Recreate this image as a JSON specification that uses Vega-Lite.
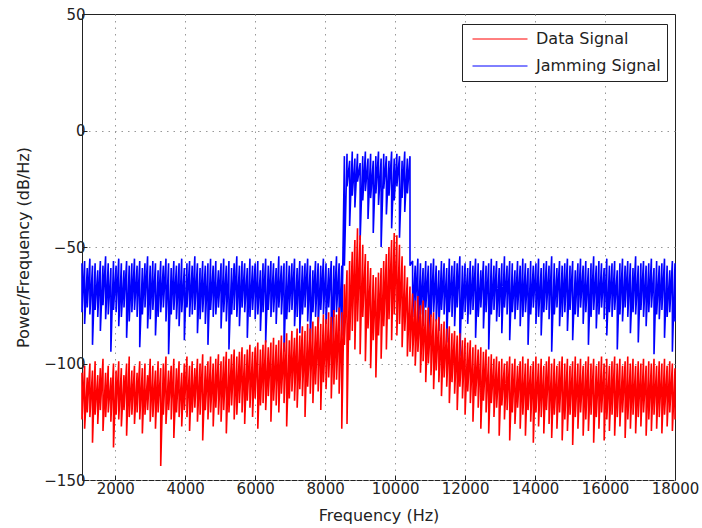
{
"$schema":"https://vega.github.io/schema/vega-lite/v6.json",
"width":593,"height":466,
"autosize":{"type":"none"},
"padding":{"left":82,"top":14,"right":27,"bottom":48},
"background":"white",
"config":{"font":"DejaVu Sans","view":{"stroke":"#222","strokeWidth":1},
"axis":{"labelFont":"DejaVu Sans","titleFont":"DejaVu Sans","labelColor":"#222","titleColor":"#222","labelFontSize":15,"titleFontSize":16,"titleFontWeight":"normal","domain":false,"tickColor":"#222","tickSize":-5,"labelFlush":false,"labelOverlap":false,"gridColor":"#999","gridDash":[1.5,5],"gridWidth":1},
"legend":{"labelFont":"DejaVu Sans","labelFontSize":16,"labelColor":"#222"}},
"data":{"values":[
{"f":1050,"s":"J","a":-57,"b":-78},{"f":1125,"s":"J","a":-56,"b":-83},{"f":1200,"s":"J","a":-59,"b":-76},{"f":1275,"s":"J","a":-55,"b":-79},{"f":1350,"s":"J","a":-58,"b":-92},
{"f":1425,"s":"J","a":-57,"b":-77},{"f":1500,"s":"J","a":-60,"b":-80},{"f":1575,"s":"J","a":-56,"b":-86},{"f":1650,"s":"J","a":-58,"b":-75},{"f":1725,"s":"J","a":-54,"b":-81},
{"f":1800,"s":"J","a":-57,"b":-79},{"f":1875,"s":"J","a":-59,"b":-95},{"f":1950,"s":"J","a":-56,"b":-77},{"f":2025,"s":"J","a":-58,"b":-78},{"f":2100,"s":"J","a":-55,"b":-84},
{"f":2175,"s":"J","a":-57,"b":-80},{"f":2250,"s":"J","a":-60,"b":-76},{"f":2325,"s":"J","a":-56,"b":-89},{"f":2400,"s":"J","a":-58,"b":-82},{"f":2475,"s":"J","a":-57,"b":-78},
{"f":2550,"s":"J","a":-55,"b":-77},{"f":2625,"s":"J","a":-58,"b":-80},{"f":2700,"s":"J","a":-56,"b":-93},{"f":2775,"s":"J","a":-59,"b":-79},{"f":2850,"s":"J","a":-57,"b":-76},
{"f":2925,"s":"J","a":-54,"b":-85},{"f":3000,"s":"J","a":-58,"b":-81},{"f":3075,"s":"J","a":-56,"b":-77},{"f":3150,"s":"J","a":-57,"b":-88},{"f":3225,"s":"J","a":-60,"b":-80},
{"f":3300,"s":"J","a":-56,"b":-78},{"f":3375,"s":"J","a":-58,"b":-76},{"f":3450,"s":"J","a":-55,"b":-82},{"f":3525,"s":"J","a":-57,"b":-96},{"f":3600,"s":"J","a":-59,"b":-79},
{"f":3675,"s":"J","a":-56,"b":-77},{"f":3750,"s":"J","a":-58,"b":-81},{"f":3825,"s":"J","a":-57,"b":-84},{"f":3900,"s":"J","a":-55,"b":-78},{"f":3975,"s":"J","a":-59,"b":-90},
{"f":4050,"s":"J","a":-57,"b":-76},{"f":4125,"s":"J","a":-56,"b":-80},{"f":4200,"s":"J","a":-58,"b":-79},{"f":4275,"s":"J","a":-54,"b":-77},{"f":4350,"s":"J","a":-57,"b":-87},
{"f":4425,"s":"J","a":-59,"b":-81},{"f":4500,"s":"J","a":-56,"b":-78},{"f":4575,"s":"J","a":-58,"b":-83},{"f":4650,"s":"J","a":-57,"b":-92},{"f":4725,"s":"J","a":-55,"b":-77},
{"f":4800,"s":"J","a":-58,"b":-80},{"f":4875,"s":"J","a":-56,"b":-79},{"f":4950,"s":"J","a":-60,"b":-76},{"f":5025,"s":"J","a":-57,"b":-85},{"f":5100,"s":"J","a":-55,"b":-78},
{"f":5175,"s":"J","a":-58,"b":-82},{"f":5250,"s":"J","a":-56,"b":-94},{"f":5325,"s":"J","a":-59,"b":-79},{"f":5400,"s":"J","a":-57,"b":-77},{"f":5475,"s":"J","a":-54,"b":-80},
{"f":5550,"s":"J","a":-58,"b":-84},{"f":5625,"s":"J","a":-56,"b":-76},{"f":5700,"s":"J","a":-57,"b":-78},{"f":5775,"s":"J","a":-59,"b":-89},{"f":5850,"s":"J","a":-55,"b":-80},
{"f":5925,"s":"J","a":-58,"b":-77},{"f":6000,"s":"J","a":-57,"b":-81},{"f":6075,"s":"J","a":-56,"b":-79},{"f":6150,"s":"J","a":-60,"b":-86},{"f":6225,"s":"J","a":-57,"b":-78},
{"f":6300,"s":"J","a":-55,"b":-91},{"f":6375,"s":"J","a":-58,"b":-77},{"f":6450,"s":"J","a":-56,"b":-80},{"f":6525,"s":"J","a":-57,"b":-78},{"f":6600,"s":"J","a":-59,"b":-83},
{"f":6675,"s":"J","a":-54,"b":-76},{"f":6750,"s":"J","a":-58,"b":-79},{"f":6825,"s":"J","a":-57,"b":-95},{"f":6900,"s":"J","a":-56,"b":-81},{"f":6975,"s":"J","a":-58,"b":-78},
{"f":7050,"s":"J","a":-57,"b":-77},{"f":7125,"s":"J","a":-55,"b":-84},{"f":7200,"s":"J","a":-59,"b":-80},{"f":7275,"s":"J","a":-56,"b":-87},{"f":7350,"s":"J","a":-58,"b":-79},
{"f":7425,"s":"J","a":-57,"b":-76},{"f":7500,"s":"J","a":-55,"b":-82},{"f":7575,"s":"J","a":-58,"b":-90},{"f":7650,"s":"J","a":-60,"b":-78},{"f":7725,"s":"J","a":-56,"b":-80},
{"f":7800,"s":"J","a":-57,"b":-85},{"f":7875,"s":"J","a":-58,"b":-77},{"f":7950,"s":"J","a":-55,"b":-79},{"f":8025,"s":"J","a":-57,"b":-83},{"f":8100,"s":"J","a":-59,"b":-76},
{"f":8175,"s":"J","a":-56,"b":-93},{"f":8250,"s":"J","a":-58,"b":-80},{"f":8325,"s":"J","a":-54,"b":-78},{"f":8400,"s":"J","a":-57,"b":-86},{"f":8475,"s":"J","a":-58,"b":-88},
{"f":8550,"s":"J","a":-11,"b":-58},{"f":8625,"s":"J","a":-10,"b":-24},{"f":8700,"s":"J","a":-13,"b":-41},{"f":8775,"s":"J","a":-9,"b":-28},{"f":8850,"s":"J","a":-12,"b":-33},
{"f":8925,"s":"J","a":-10,"b":-22},{"f":9000,"s":"J","a":-14,"b":-47},{"f":9075,"s":"J","a":-11,"b":-30},{"f":9150,"s":"J","a":-9,"b":-26},{"f":9225,"s":"J","a":-12,"b":-38},
{"f":9300,"s":"J","a":-10,"b":-29},{"f":9375,"s":"J","a":-13,"b":-44},{"f":9450,"s":"J","a":-11,"b":-27},{"f":9525,"s":"J","a":-9,"b":-32},{"f":9600,"s":"J","a":-12,"b":-50},
{"f":9675,"s":"J","a":-10,"b":-25},{"f":9750,"s":"J","a":-11,"b":-36},{"f":9825,"s":"J","a":-13,"b":-28},{"f":9900,"s":"J","a":-9,"b":-42},{"f":9975,"s":"J","a":-12,"b":-30},
{"f":10050,"s":"J","a":-10,"b":-24},{"f":10125,"s":"J","a":-11,"b":-46},{"f":10200,"s":"J","a":-13,"b":-29},{"f":10275,"s":"J","a":-9,"b":-35},{"f":10350,"s":"J","a":-12,"b":-27},
{"f":10425,"s":"J","a":-11,"b":-58},
{"f":10500,"s":"J","a":-56,"b":-80},{"f":10575,"s":"J","a":-58,"b":-77},{"f":10650,"s":"J","a":-55,"b":-88},{"f":10725,"s":"J","a":-57,"b":-79},{"f":10800,"s":"J","a":-59,"b":-84},
{"f":10875,"s":"J","a":-56,"b":-76},{"f":10950,"s":"J","a":-58,"b":-93},{"f":11025,"s":"J","a":-57,"b":-80},{"f":11100,"s":"J","a":-55,"b":-78},{"f":11175,"s":"J","a":-58,"b":-82},
{"f":11250,"s":"J","a":-60,"b":-86},{"f":11325,"s":"J","a":-56,"b":-77},{"f":11400,"s":"J","a":-57,"b":-79},{"f":11475,"s":"J","a":-59,"b":-91},{"f":11550,"s":"J","a":-55,"b":-78},
{"f":11625,"s":"J","a":-58,"b":-80},{"f":11700,"s":"J","a":-56,"b":-84},{"f":11775,"s":"J","a":-57,"b":-76},{"f":11850,"s":"J","a":-54,"b":-97},{"f":11925,"s":"J","a":-58,"b":-81},
{"f":12000,"s":"J","a":-57,"b":-78},{"f":12075,"s":"J","a":-59,"b":-83},{"f":12150,"s":"J","a":-56,"b":-79},{"f":12225,"s":"J","a":-58,"b":-77},{"f":12300,"s":"J","a":-55,"b":-89},
{"f":12375,"s":"J","a":-57,"b":-80},{"f":12450,"s":"J","a":-60,"b":-76},{"f":12525,"s":"J","a":-56,"b":-85},{"f":12600,"s":"J","a":-58,"b":-78},{"f":12675,"s":"J","a":-57,"b":-94},
{"f":12750,"s":"J","a":-55,"b":-79},{"f":12825,"s":"J","a":-58,"b":-77},{"f":12900,"s":"J","a":-56,"b":-82},{"f":12975,"s":"J","a":-59,"b":-80},{"f":13050,"s":"J","a":-57,"b":-87},
{"f":13125,"s":"J","a":-54,"b":-76},{"f":13200,"s":"J","a":-58,"b":-79},{"f":13275,"s":"J","a":-56,"b":-90},{"f":13350,"s":"J","a":-57,"b":-78},{"f":13425,"s":"J","a":-60,"b":-81},
{"f":13500,"s":"J","a":-56,"b":-77},{"f":13575,"s":"J","a":-58,"b":-84},{"f":13650,"s":"J","a":-55,"b":-80},{"f":13725,"s":"J","a":-57,"b":-78},{"f":13800,"s":"J","a":-59,"b":-92},
{"f":13875,"s":"J","a":-56,"b":-79},{"f":13950,"s":"J","a":-58,"b":-76},{"f":14025,"s":"J","a":-57,"b":-83},{"f":14100,"s":"J","a":-55,"b":-80},{"f":14175,"s":"J","a":-59,"b":-88},
{"f":14250,"s":"J","a":-57,"b":-78},{"f":14325,"s":"J","a":-56,"b":-77},{"f":14400,"s":"J","a":-58,"b":-81},{"f":14475,"s":"J","a":-54,"b":-95},{"f":14550,"s":"J","a":-57,"b":-79},
{"f":14625,"s":"J","a":-59,"b":-76},{"f":14700,"s":"J","a":-56,"b":-84},{"f":14775,"s":"J","a":-58,"b":-80},{"f":14850,"s":"J","a":-57,"b":-78},{"f":14925,"s":"J","a":-55,"b":-86},
{"f":15000,"s":"J","a":-58,"b":-77},{"f":15075,"s":"J","a":-56,"b":-90},{"f":15150,"s":"J","a":-60,"b":-79},{"f":15225,"s":"J","a":-57,"b":-80},{"f":15300,"s":"J","a":-55,"b":-76},
{"f":15375,"s":"J","a":-58,"b":-83},{"f":15450,"s":"J","a":-56,"b":-78},{"f":15525,"s":"J","a":-59,"b":-92},{"f":15600,"s":"J","a":-57,"b":-80},{"f":15675,"s":"J","a":-54,"b":-77},
{"f":15750,"s":"J","a":-58,"b":-85},{"f":15825,"s":"J","a":-56,"b":-79},{"f":15900,"s":"J","a":-57,"b":-76},{"f":15975,"s":"J","a":-59,"b":-81},{"f":16050,"s":"J","a":-55,"b":-88},
{"f":16125,"s":"J","a":-58,"b":-78},{"f":16200,"s":"J","a":-57,"b":-80},{"f":16275,"s":"J","a":-56,"b":-77},{"f":16350,"s":"J","a":-60,"b":-94},{"f":16425,"s":"J","a":-57,"b":-79},
{"f":16500,"s":"J","a":-55,"b":-82},{"f":16575,"s":"J","a":-58,"b":-76},{"f":16650,"s":"J","a":-56,"b":-80},{"f":16725,"s":"J","a":-57,"b":-87},{"f":16800,"s":"J","a":-59,"b":-78},
{"f":16875,"s":"J","a":-54,"b":-79},{"f":16950,"s":"J","a":-58,"b":-91},{"f":17025,"s":"J","a":-57,"b":-77},{"f":17100,"s":"J","a":-56,"b":-80},{"f":17175,"s":"J","a":-58,"b":-84},
{"f":17250,"s":"J","a":-57,"b":-78},{"f":17325,"s":"J","a":-55,"b":-76},{"f":17400,"s":"J","a":-59,"b":-96},{"f":17475,"s":"J","a":-56,"b":-79},{"f":17550,"s":"J","a":-58,"b":-81},
{"f":17625,"s":"J","a":-57,"b":-77},{"f":17700,"s":"J","a":-55,"b":-89},{"f":17775,"s":"J","a":-58,"b":-80},{"f":17850,"s":"J","a":-60,"b":-78},{"f":17925,"s":"J","a":-56,"b":-95},
{"f":18000,"s":"J","a":-57,"b":-82},
{"f":1050,"s":"D","a":-104,"b":-124},{"f":1125,"s":"D","a":-101,"b":-128},{"f":1200,"s":"D","a":-106,"b":-121},{"f":1275,"s":"D","a":-100,"b":-123},{"f":1350,"s":"D","a":-103,"b":-134},
{"f":1425,"s":"D","a":-99,"b":-122},{"f":1500,"s":"D","a":-105,"b":-126},{"f":1575,"s":"D","a":-102,"b":-120},{"f":1650,"s":"D","a":-98,"b":-129},{"f":1725,"s":"D","a":-104,"b":-123},
{"f":1800,"s":"D","a":-101,"b":-121},{"f":1875,"s":"D","a":-106,"b":-125},{"f":1950,"s":"D","a":-100,"b":-136},{"f":2025,"s":"D","a":-103,"b":-122},{"f":2100,"s":"D","a":-99,"b":-124},
{"f":2175,"s":"D","a":-102,"b":-127},{"f":2250,"s":"D","a":-105,"b":-120},{"f":2325,"s":"D","a":-100,"b":-131},{"f":2400,"s":"D","a":-97,"b":-123},{"f":2475,"s":"D","a":-103,"b":-122},
{"f":2550,"s":"D","a":-101,"b":-126},{"f":2625,"s":"D","a":-104,"b":-121},{"f":2700,"s":"D","a":-99,"b":-124},{"f":2775,"s":"D","a":-102,"b":-130},{"f":2850,"s":"D","a":-100,"b":-122},
{"f":2925,"s":"D","a":-105,"b":-120},{"f":3000,"s":"D","a":-98,"b":-125},{"f":3075,"s":"D","a":-101,"b":-123},{"f":3150,"s":"D","a":-103,"b":-128},{"f":3225,"s":"D","a":-99,"b":-121},
{"f":3300,"s":"D","a":-102,"b":-144},{"f":3375,"s":"D","a":-100,"b":-122},{"f":3450,"s":"D","a":-97,"b":-126},{"f":3525,"s":"D","a":-103,"b":-120},{"f":3600,"s":"D","a":-101,"b":-124},
{"f":3675,"s":"D","a":-98,"b":-132},{"f":3750,"s":"D","a":-102,"b":-121},{"f":3825,"s":"D","a":-99,"b":-123},{"f":3900,"s":"D","a":-104,"b":-127},{"f":3975,"s":"D","a":-100,"b":-120},
{"f":4050,"s":"D","a":-97,"b":-123},{"f":4125,"s":"D","a":-101,"b":-129},{"f":4200,"s":"D","a":-99,"b":-121},{"f":4275,"s":"D","a":-102,"b":-119},{"f":4350,"s":"D","a":-98,"b":-125},
{"f":4425,"s":"D","a":-100,"b":-122},{"f":4500,"s":"D","a":-96,"b":-133},{"f":4575,"s":"D","a":-101,"b":-120},{"f":4650,"s":"D","a":-99,"b":-124},{"f":4725,"s":"D","a":-97,"b":-121},
{"f":4800,"s":"D","a":-100,"b":-127},{"f":4875,"s":"D","a":-98,"b":-119},{"f":4950,"s":"D","a":-96,"b":-122},{"f":5025,"s":"D","a":-99,"b":-125},{"f":5100,"s":"D","a":-97,"b":-120},
{"f":5175,"s":"D","a":-95,"b":-130},{"f":5250,"s":"D","a":-98,"b":-121},{"f":5325,"s":"D","a":-96,"b":-118},{"f":5400,"s":"D","a":-94,"b":-124},{"f":5475,"s":"D","a":-97,"b":-122},
{"f":5550,"s":"D","a":-95,"b":-117},{"f":5625,"s":"D","a":-93,"b":-121},{"f":5700,"s":"D","a":-96,"b":-126},{"f":5775,"s":"D","a":-94,"b":-116},{"f":5850,"s":"D","a":-92,"b":-119},
{"f":5925,"s":"D","a":-95,"b":-123},{"f":6000,"s":"D","a":-93,"b":-115},{"f":6075,"s":"D","a":-91,"b":-128},{"f":6150,"s":"D","a":-94,"b":-118},{"f":6225,"s":"D","a":-92,"b":-117},
{"f":6300,"s":"D","a":-90,"b":-120},{"f":6375,"s":"D","a":-93,"b":-114},{"f":6450,"s":"D","a":-91,"b":-125},{"f":6525,"s":"D","a":-89,"b":-116},{"f":6600,"s":"D","a":-92,"b":-118},
{"f":6675,"s":"D","a":-90,"b":-121},{"f":6750,"s":"D","a":-88,"b":-113},{"f":6825,"s":"D","a":-91,"b":-117},{"f":6900,"s":"D","a":-87,"b":-127},{"f":6975,"s":"D","a":-90,"b":-115},
{"f":7050,"s":"D","a":-86,"b":-112},{"f":7125,"s":"D","a":-89,"b":-116},{"f":7200,"s":"D","a":-85,"b":-119},{"f":7275,"s":"D","a":-88,"b":-111},{"f":7350,"s":"D","a":-84,"b":-114},
{"f":7425,"s":"D","a":-86,"b":-123},{"f":7500,"s":"D","a":-83,"b":-110},{"f":7575,"s":"D","a":-85,"b":-113},{"f":7650,"s":"D","a":-82,"b":-117},{"f":7725,"s":"D","a":-84,"b":-109},
{"f":7800,"s":"D","a":-80,"b":-112},{"f":7875,"s":"D","a":-83,"b":-120},{"f":7950,"s":"D","a":-79,"b":-108},{"f":8025,"s":"D","a":-81,"b":-111},{"f":8100,"s":"D","a":-78,"b":-106},
{"f":8175,"s":"D","a":-80,"b":-115},{"f":8250,"s":"D","a":-77,"b":-109},{"f":8325,"s":"D","a":-79,"b":-107},{"f":8400,"s":"D","a":-76,"b":-113},{"f":8475,"s":"D","a":-78,"b":-128},
{"f":8550,"s":"D","a":-66,"b":-92},{"f":8625,"s":"D","a":-60,"b":-126},{"f":8700,"s":"D","a":-56,"b":-90},{"f":8775,"s":"D","a":-52,"b":-86},{"f":8850,"s":"D","a":-47,"b":-94},
{"f":8925,"s":"D","a":-42,"b":-82},{"f":9000,"s":"D","a":-45,"b":-96},{"f":9075,"s":"D","a":-49,"b":-80},{"f":9150,"s":"D","a":-53,"b":-99},{"f":9225,"s":"D","a":-56,"b":-85},
{"f":9300,"s":"D","a":-59,"b":-102},{"f":9375,"s":"D","a":-62,"b":-90},{"f":9450,"s":"D","a":-63,"b":-106},{"f":9525,"s":"D","a":-61,"b":-88},{"f":9600,"s":"D","a":-59,"b":-98},
{"f":9675,"s":"D","a":-56,"b":-84},{"f":9750,"s":"D","a":-53,"b":-94},{"f":9825,"s":"D","a":-50,"b":-81},{"f":9900,"s":"D","a":-47,"b":-90},{"f":9975,"s":"D","a":-44,"b":-79},
{"f":10050,"s":"D","a":-45,"b":-88},{"f":10125,"s":"D","a":-49,"b":-83},{"f":10200,"s":"D","a":-54,"b":-93},{"f":10275,"s":"D","a":-58,"b":-86},{"f":10350,"s":"D","a":-63,"b":-97},
{"f":10425,"s":"D","a":-67,"b":-95},
{"f":10500,"s":"D","a":-70,"b":-97},{"f":10575,"s":"D","a":-73,"b":-101},{"f":10650,"s":"D","a":-71,"b":-95},{"f":10725,"s":"D","a":-75,"b":-104},{"f":10800,"s":"D","a":-73,"b":-99},
{"f":10875,"s":"D","a":-77,"b":-108},{"f":10950,"s":"D","a":-76,"b":-100},{"f":11025,"s":"D","a":-79,"b":-105},{"f":11100,"s":"D","a":-78,"b":-111},{"f":11175,"s":"D","a":-81,"b":-103},
{"f":11250,"s":"D","a":-80,"b":-108},{"f":11325,"s":"D","a":-83,"b":-114},{"f":11400,"s":"D","a":-82,"b":-106},{"f":11475,"s":"D","a":-85,"b":-110},{"f":11550,"s":"D","a":-84,"b":-117},
{"f":11625,"s":"D","a":-87,"b":-108},{"f":11700,"s":"D","a":-86,"b":-113},{"f":11775,"s":"D","a":-88,"b":-120},{"f":11850,"s":"D","a":-87,"b":-110},{"f":11925,"s":"D","a":-90,"b":-115},
{"f":12000,"s":"D","a":-89,"b":-122},{"f":12075,"s":"D","a":-91,"b":-112},{"f":12150,"s":"D","a":-90,"b":-117},{"f":12225,"s":"D","a":-93,"b":-125},{"f":12300,"s":"D","a":-92,"b":-114},
{"f":12375,"s":"D","a":-94,"b":-119},{"f":12450,"s":"D","a":-93,"b":-128},{"f":12525,"s":"D","a":-95,"b":-116},{"f":12600,"s":"D","a":-94,"b":-121},{"f":12675,"s":"D","a":-97,"b":-130},
{"f":12750,"s":"D","a":-96,"b":-117},{"f":12825,"s":"D","a":-98,"b":-123},{"f":12900,"s":"D","a":-97,"b":-119},{"f":12975,"s":"D","a":-99,"b":-131},{"f":13050,"s":"D","a":-98,"b":-118},
{"f":13125,"s":"D","a":-100,"b":-124},{"f":13200,"s":"D","a":-99,"b":-120},{"f":13275,"s":"D","a":-97,"b":-133},{"f":13350,"s":"D","a":-100,"b":-121},{"f":13425,"s":"D","a":-98,"b":-126},
{"f":13500,"s":"D","a":-101,"b":-119},{"f":13575,"s":"D","a":-99,"b":-128},{"f":13650,"s":"D","a":-97,"b":-122},{"f":13725,"s":"D","a":-100,"b":-131},{"f":13800,"s":"D","a":-98,"b":-120},
{"f":13875,"s":"D","a":-101,"b":-125},{"f":13950,"s":"D","a":-99,"b":-134},{"f":14025,"s":"D","a":-97,"b":-121},{"f":14100,"s":"D","a":-100,"b":-127},{"f":14175,"s":"D","a":-98,"b":-123},
{"f":14250,"s":"D","a":-101,"b":-130},{"f":14325,"s":"D","a":-99,"b":-120},{"f":14400,"s":"D","a":-97,"b":-126},{"f":14475,"s":"D","a":-100,"b":-132},{"f":14550,"s":"D","a":-98,"b":-122},
{"f":14625,"s":"D","a":-101,"b":-128},{"f":14700,"s":"D","a":-99,"b":-121},{"f":14775,"s":"D","a":-97,"b":-133},{"f":14850,"s":"D","a":-100,"b":-124},{"f":14925,"s":"D","a":-98,"b":-129},
{"f":15000,"s":"D","a":-101,"b":-122},{"f":15075,"s":"D","a":-99,"b":-135},{"f":15150,"s":"D","a":-97,"b":-123},{"f":15225,"s":"D","a":-100,"b":-128},{"f":15300,"s":"D","a":-98,"b":-121},
{"f":15375,"s":"D","a":-101,"b":-131},{"f":15450,"s":"D","a":-99,"b":-124},{"f":15525,"s":"D","a":-97,"b":-129},{"f":15600,"s":"D","a":-100,"b":-122},{"f":15675,"s":"D","a":-98,"b":-134},
{"f":15750,"s":"D","a":-101,"b":-123},{"f":15825,"s":"D","a":-99,"b":-128},{"f":15900,"s":"D","a":-97,"b":-121},{"f":15975,"s":"D","a":-100,"b":-133},{"f":16050,"s":"D","a":-98,"b":-124},
{"f":16125,"s":"D","a":-101,"b":-129},{"f":16200,"s":"D","a":-99,"b":-122},{"f":16275,"s":"D","a":-97,"b":-131},{"f":16350,"s":"D","a":-100,"b":-123},{"f":16425,"s":"D","a":-98,"b":-127},
{"f":16500,"s":"D","a":-101,"b":-121},{"f":16575,"s":"D","a":-99,"b":-132},{"f":16650,"s":"D","a":-97,"b":-124},{"f":16725,"s":"D","a":-100,"b":-128},{"f":16800,"s":"D","a":-98,"b":-122},
{"f":16875,"s":"D","a":-101,"b":-130},{"f":16950,"s":"D","a":-99,"b":-123},{"f":17025,"s":"D","a":-100,"b":-127},{"f":17100,"s":"D","a":-98,"b":-121},{"f":17175,"s":"D","a":-101,"b":-131},
{"f":17250,"s":"D","a":-99,"b":-124},{"f":17325,"s":"D","a":-100,"b":-129},{"f":17400,"s":"D","a":-98,"b":-122},{"f":17475,"s":"D","a":-101,"b":-128},{"f":17550,"s":"D","a":-99,"b":-123},
{"f":17625,"s":"D","a":-100,"b":-130},{"f":17700,"s":"D","a":-98,"b":-122},{"f":17775,"s":"D","a":-101,"b":-127},{"f":17850,"s":"D","a":-99,"b":-121},{"f":17925,"s":"D","a":-100,"b":-129},
{"f":18000,"s":"D","a":-102,"b":-124}
]},
"transform":[{"fold":["a","b"],"as":["k","p"]}],
"mark":{"type":"line","strokeWidth":1.6,"strokeJoin":"miter","strokeMiterLimit":2},
"encoding":{
"x":{"field":"f","type":"quantitative","title":"Frequency (Hz)","scale":{"domain":[1050,18000],"nice":false,"zero":false},
"axis":{"values":[2000,4000,6000,8000,10000,12000,14000,16000,18000],"format":"d","labelPadding":6,"titlePadding":11,"grid":true,"gridOpacity":{"condition":{"test":"datum.value == 18000","value":0},"value":1}}},
"y":{"field":"p","type":"quantitative","title":"Power/Frequency (dB/Hz)","scale":{"domain":[-150,50],"nice":false},
"axis":{"values":[-150,-100,-50,0,50],"labelPadding":2,"titlePadding":12,"grid":true,"gridOpacity":{"condition":{"test":"datum.value == 50","value":0},"value":1}}},
"order":{"value":null},
"color":{"field":"s","type":"nominal","sort":["D","J"],"scale":{"domain":["D","J"],"range":["#ff0000","#0000ff"]},
"legend":{"title":null,"orient":"none","legendX":380,"legendY":10,"labelExpr":"datum.label == 'D' ? 'Data Signal' : 'Jamming Signal'","symbolType":"stroke","symbolSize":3025,"symbolStrokeWidth":1,"symbolOffset":4,"labelOffset":8,"clipHeight":18,"padding":6,"rowPadding":9,"strokeColor":"#222","fillColor":"white","cornerRadius":0}}
}
}
